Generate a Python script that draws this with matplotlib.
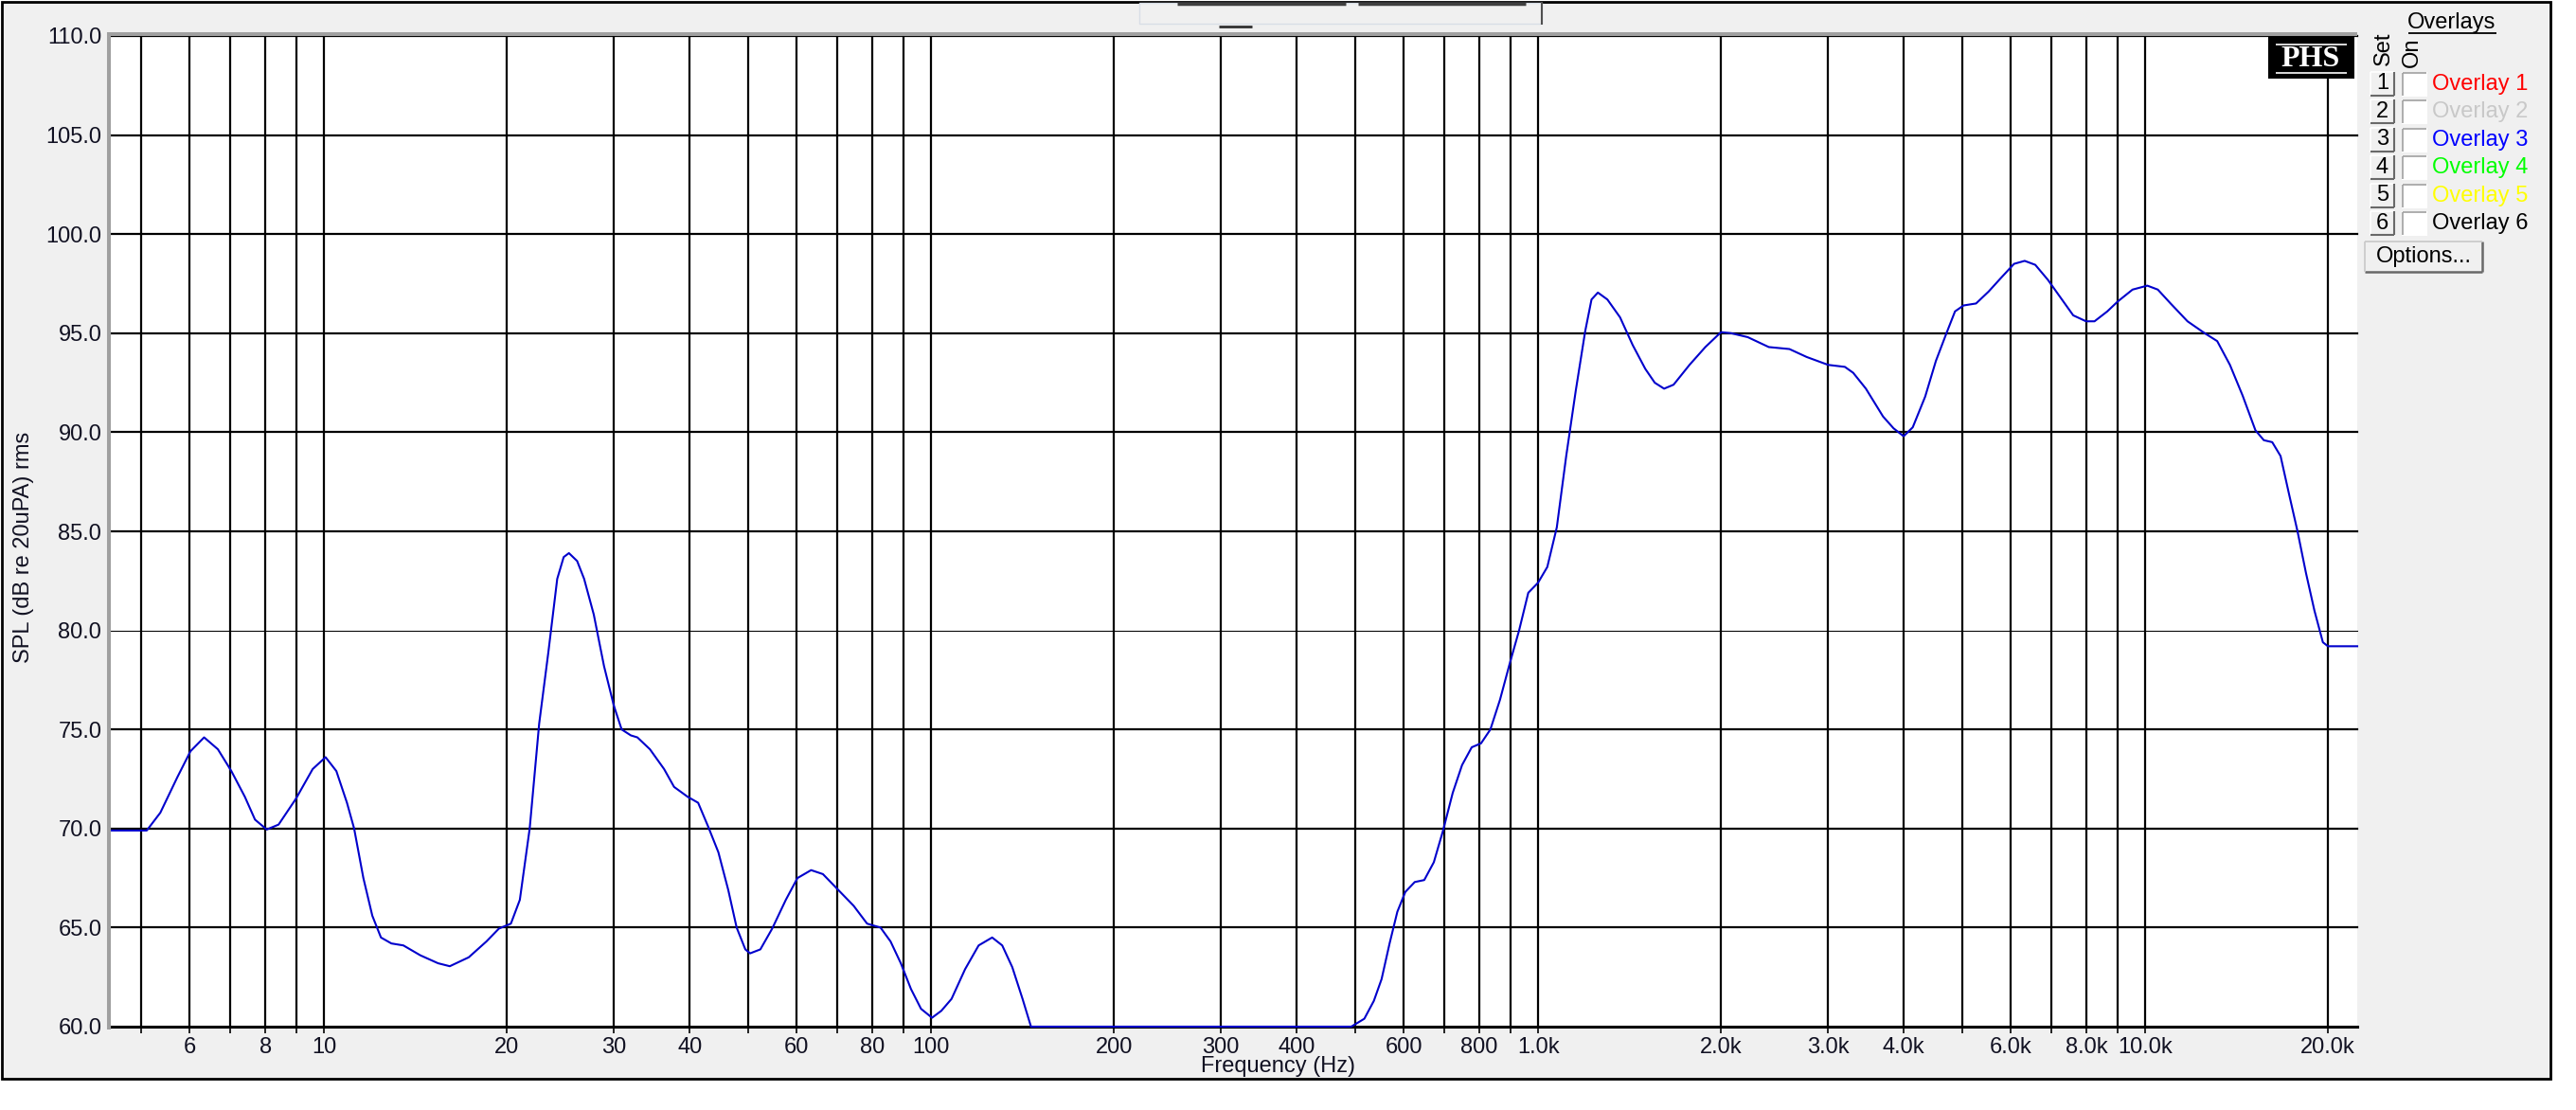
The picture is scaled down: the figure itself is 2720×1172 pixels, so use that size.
import matplotlib
matplotlib.use('Agg')
import matplotlib.pyplot as plt
from matplotlib.patches import Rectangle
from matplotlib.lines import Line2D
from matplotlib.ticker import NullLocator

W, H = 2720, 1172
plt.rcParams['font.family'] = ['Liberation Sans', 'DejaVu Sans']

# ---------------- data ----------------
freq_hz = [4.45, 5.1, 5.37, 5.73, 6.02, 6.34, 6.68, 7.03, 7.40, 7.69, 8.04, 8.41, 8.98, 9.57,
           10.05, 10.47, 10.9, 11.2, 11.6, 12.0, 12.4, 12.9, 13.5, 14.4, 15.4, 16.1, 17.3,
           18.5, 19.4, 20.3, 21.0, 21.8, 22.2, 22.6, 23.4, 24.2, 24.8, 25.3, 26.1, 26.8,
           27.8, 28.9, 30.0, 30.9, 32.0, 32.8, 34.4, 36.3, 37.7, 39.7, 41.3, 42.9, 44.6,
           46.3, 47.8, 49.4, 50.3, 52.3, 54.7, 57.6, 60.2, 63.4, 66.3, 70.3, 74.5, 78.4,
           82.5, 85.7, 89.1, 92.6, 96.2, 100.3, 103.9, 108, 113.7, 119.7, 126, 130.9, 136,
           141.4, 146, 492, 517, 536, 552, 569, 586, 604, 626, 649, 673, 697, 723, 749, 777,
           805, 834, 865, 897, 930, 963, 999, 1035, 1073, 1112, 1153, 1195, 1224, 1254,
           1300, 1364, 1431, 1501, 1556, 1612, 1671, 1775, 1885, 2000, 2078, 2214, 2398,
           2593, 2768, 3004, 3200, 3303, 3466, 3580, 3698, 3849, 3999, 4140, 4340, 4520,
           4705, 4860, 5020, 5264, 5520, 5790, 6080, 6330, 6590, 6910, 7250, 7610, 7990,
           8250, 8660, 9010, 9530, 10080, 10490, 11010, 11740, 12530, 13140, 13790, 14470,
           15190, 15680, 16190, 16710, 17250, 17820, 18400, 19000, 19620, 20000, 22350]
spl_db = [69.9, 69.9, 70.8, 72.6, 73.9, 74.6, 74.0, 72.9, 71.6, 70.45, 69.95, 70.2, 71.5, 73.0,
          73.6, 72.9, 71.3, 70.0, 67.5, 65.6, 64.5, 64.2, 64.1, 63.6, 63.2, 63.05, 63.5,
          64.3, 64.95, 65.2, 66.4, 70.0, 72.7, 75.3, 78.9, 82.6, 83.7, 83.9, 83.5, 82.6,
          80.8, 78.2, 76.2, 75.0, 74.7, 74.6, 74.0, 73.0, 72.1, 71.6, 71.3, 70.1, 68.8,
          66.9, 65.0, 63.9, 63.7, 63.9, 64.95, 66.4, 67.5, 67.9, 67.7, 66.9, 66.1, 65.2,
          65.0, 64.3, 63.2, 61.9, 60.9, 60.45, 60.8, 61.4, 62.9, 64.1, 64.5, 64.1, 63.0,
          61.4, 60.0, 60.0, 60.4, 61.3, 62.4, 64.2, 65.8, 66.8, 67.3, 67.4, 68.3, 69.9, 71.8,
          73.2, 74.1, 74.3, 75.0, 76.5, 78.3, 80.0, 81.9, 82.4, 83.2, 85.2, 88.8, 92.1, 95.1,
          96.7, 97.05, 96.7, 95.8, 94.4, 93.2, 92.5, 92.2, 92.4, 93.4, 94.3, 95.05, 95.0,
          94.8, 94.3, 94.2, 93.8, 93.4, 93.3, 93.0, 92.2, 91.5, 90.8, 90.2, 89.8, 90.25,
          91.8, 93.6, 95.0, 96.1, 96.4, 96.5, 97.1, 97.8, 98.5, 98.65, 98.45, 97.7, 96.8,
          95.9, 95.6, 95.6, 96.1, 96.6, 97.2, 97.4, 97.2, 96.5, 95.6, 95.0, 94.6, 93.4,
          91.85, 90.1, 89.6, 89.5, 88.8, 86.9, 85.0, 82.9, 81.0, 79.4, 79.2, 79.2]

grid_freqs = [5, 6, 7, 8, 9, 10, 20, 30, 40, 50, 60, 70, 80, 90, 100, 200, 300, 400, 500,
              600, 700, 800, 900, 1000, 2000, 3000, 4000, 5000, 6000, 7000, 8000, 9000,
              10000, 20000]
x_tick_labels = {6: '6', 8: '8', 10: '10', 20: '20', 30: '30', 40: '40', 60: '60', 80: '80',
                 100: '100', 200: '200', 300: '300', 400: '400', 600: '600', 800: '800',
                 1000: '1.0k', 2000: '2.0k', 3000: '3.0k', 4000: '4.0k', 6000: '6.0k',
                 8000: '8.0k', 10000: '10.0k', 20000: '20.0k'}
y_ticks = [60, 65, 70, 75, 80, 85, 90, 95, 100, 105, 110]

overlay_names = ['Overlay 1', 'Overlay 2', 'Overlay 3', 'Overlay 4', 'Overlay 5', 'Overlay 6']
overlay_colors = ['#FF0000', '#C8C8C8', '#0000FF', '#00FF00', '#FFFF00', '#000000']

FS = 17
TXT = '#111122'

# ---------------- helpers ----------------
def fx(x):
    return x / W

def fy(y):
    return 1 - y / H

fig = plt.figure(figsize=(W / 100, H / 100), dpi=100)
fig.patch.set_facecolor('white')

def rect(x0, y0, x1, y1, fc, ec='none', lw=0, z=1):
    r = Rectangle((fx(x0), fy(y1)), (x1 - x0) / W, (y1 - y0) / H, transform=fig.transFigure,
                  facecolor=fc, edgecolor=ec, linewidth=lw, zorder=z)
    fig.add_artist(r)
    return r

def line(xs, ys, color, lw, z=2):
    fig.add_artist(Line2D([fx(v) for v in xs], [fy(v) for v in ys], transform=fig.transFigure,
                          color=color, linewidth=lw, zorder=z, solid_capstyle='butt'))

# application background panel
rect(1.5, 1.5, 2693, 1139, '#F0F0F0', 'black', 2.0, z=-2)

# ---------------- axes ----------------
ax = fig.add_axes([fx(117), fy(1084), (2489 - 117) / W, (1084 - 38) / H])
ax.set_facecolor('white')
ax.set_xscale('log')
ax.set_xlim(4.45, 22350)
ax.set_ylim(60, 110)

for f in grid_freqs:
    ax.axvline(f, color='black', lw=1.6, zorder=1)
for v in y_ticks[1:]:
    ax.axhline(v, color='black', lw=0.75 if v == 80 else 1.6, zorder=1, clip_on=False)

ax.plot(freq_hz, spl_db, color='#0000CC', lw=1.5, zorder=4, clip_on=False)

ax.set_xticks(grid_freqs)
ax.set_xticklabels([x_tick_labels.get(f, '') for f in grid_freqs])
ax.xaxis.set_minor_locator(NullLocator())
ax.tick_params(axis='x', direction='out', length=5, width=1.2, pad=3, labelsize=FS,
               colors='black', labelcolor=TXT)
ax.set_yticks(y_ticks)
ax.set_yticklabels([f'{v:.1f}' for v in y_ticks])
ax.yaxis.set_minor_locator(NullLocator())
ax.tick_params(axis='y', length=0, pad=7, labelsize=FS, labelcolor=TXT)

for s in ['top', 'right', 'left']:
    ax.spines[s].set_visible(False)
ax.spines['bottom'].set_color('black')
ax.spines['bottom'].set_linewidth(2.2)
ax.spines['bottom'].set_zorder(3)

# gray sunken border of plot
line([113, 2489], [36, 36], '#A0A0A0', 2.9)
line([115, 115], [34, 1087], '#A0A0A0', 2.9)

# axis titles
fig.text(fx(1350), fy(1126), 'Frequency (Hz)', ha='center', va='center', fontsize=FS,
         color=TXT)
fig.text(fx(25), fy(578), 'SPL (dB re 20uPA) rms', ha='center', va='center', fontsize=FS,
         rotation=90, color=TXT)

# ---------------- top toolbar remnants ----------------
rect(1203, 3, 1628, 25, 'none', '#D8DEE6', 1.0)
line([1243, 1421], [4, 4], '#404040', 2.5)
line([1434, 1611], [4, 4], '#404040', 2.5)
line([1628, 1628], [2, 26], '#505050', 1.5)
line([1287, 1322], [28, 28], '#303030', 2.0)

# ---------------- PHS logo ----------------
rect(2395, 39, 2486, 83, 'black', z=5)
line([2403, 2478], [47, 47], 'white', 1.2, z=6)
line([2403, 2478], [77, 77], 'white', 1.2, z=6)
fig.text(fx(2440), fy(62), 'PHS', ha='center', va='center', fontsize=23, color='white',
         family=['Liberation Serif', 'DejaVu Serif'], fontweight='bold', zorder=7)

# ---------------- overlays panel ----------------
fig.text(fx(2589), fy(24), 'Overlays', ha='center', va='center', fontsize=FS, color='black')
line([2543, 2636], [35, 35], 'black', 1.3)
fig.text(fx(2517), fy(51), 'Set', ha='center', va='center', fontsize=FS, rotation=90)
fig.text(fx(2547), fy(55), 'On', ha='center', va='center', fontsize=FS, rotation=90)

for i, (name, col) in enumerate(zip(overlay_names, overlay_colors)):
    c = 89 + i * 29.4
    # push button
    rect(2503, c - 13, 2528, c + 12, '#F0F0F0', z=2)
    line([2503, 2528], [c - 13, c - 13], '#FFFFFF', 1.2, z=3)
    line([2503, 2503], [c - 13, c + 12], '#FFFFFF', 1.2, z=3)
    line([2503, 2528], [c + 12, c + 12], '#696969', 1.5, z=3)
    line([2528, 2528], [c - 13, c + 12], '#696969', 1.5, z=3)
    fig.text(fx(2515.5), fy(c - 0.5), str(i + 1), ha='center', va='center', fontsize=FS,
             color='black', zorder=4)
    # check box
    rect(2536, c - 13, 2563, c + 13, 'white', z=2)
    line([2537, 2562], [c - 12, c - 12], '#A0A0A0', 1.2, z=3)
    line([2537, 2537], [c - 12, c + 12], '#A0A0A0', 1.2, z=3)
    fig.text(fx(2568), fy(c), name, ha='left', va='center', fontsize=FS, color=col)

# options button
rect(2497, 255, 2621, 287, '#F0F0F0', z=2)
line([2497, 2621], [287, 287], '#696969', 1.8, z=3)
line([2621, 2621], [255, 287], '#696969', 1.8, z=3)
line([2497, 2621], [255, 255], '#C8C8C8', 1.2, z=3)
line([2497, 2497], [255, 287], '#C8C8C8', 1.2, z=3)
fig.text(fx(2559), fy(271), 'Options...', ha='center', va='center', fontsize=FS, color='black')

fig.savefig('out.png', dpi=100, facecolor=fig.get_facecolor())
